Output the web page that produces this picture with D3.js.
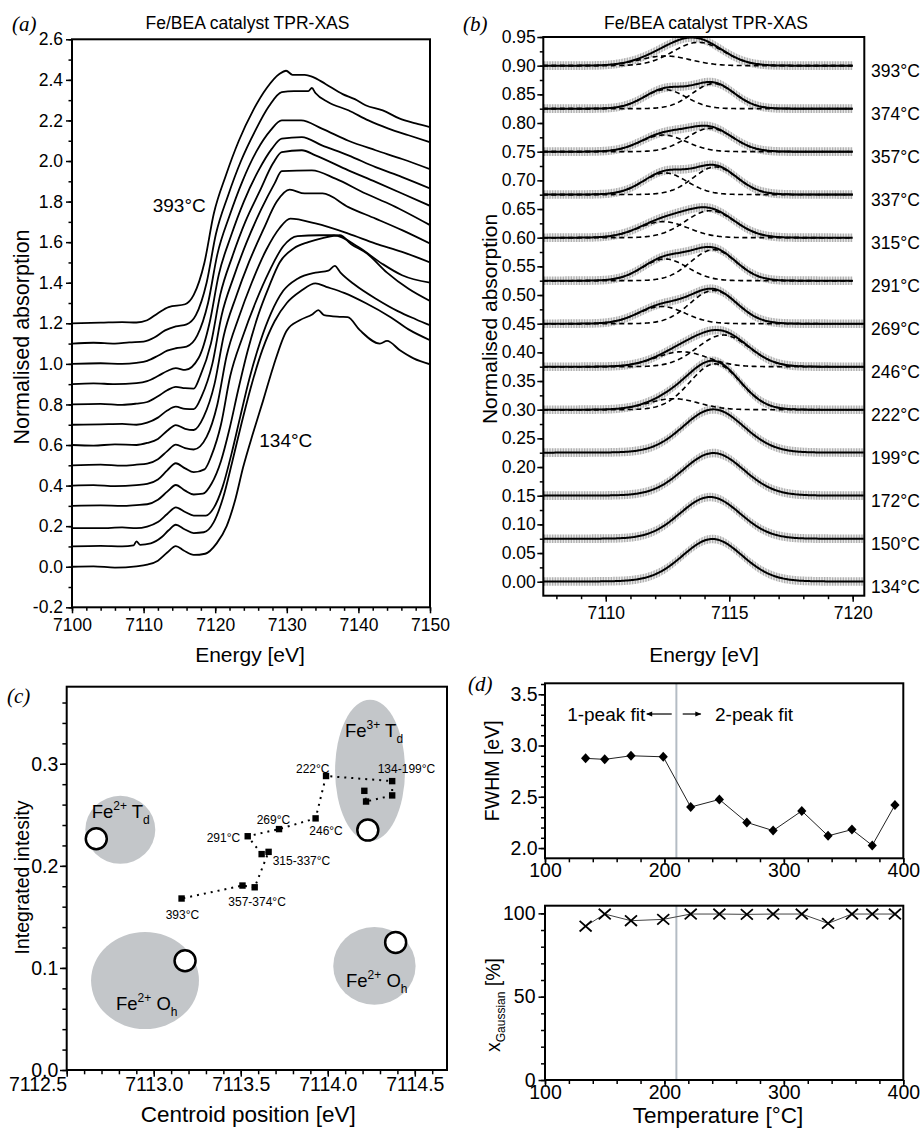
<!DOCTYPE html>
<html>
<head>
<meta charset="utf-8">
<script src="https://cdn.jsdelivr.net/npm/d3@7"></script>
<style>
  body { margin: 0; background: #fff; }
  svg text, svg tspan { font-family: "Liberation Sans", Arial, Helvetica, sans-serif; fill: #000; }
  .tag { font-family: "Liberation Serif", "Times New Roman", serif; font-style: italic; font-size: 21px; }
</style>
</head>
<body>
<div id="chart"></div>
<script>
// ---------- data ----------
const temps = [134, 150, 172, 199, 222, 246, 269, 291, 315, 337, 357, 374, 393];

// (a) normalised XANES, [energy, absorption] before stacking
const xanesOffsets = [0, 0.1, 0.19, 0.3, 0.4, 0.5, 0.6, 0.7, 0.8, 0.9, 1.0, 1.1, 1.2];
const xanes = [
  [[7100,0],[7103,0.002],[7106,-0.004],[7109,0.002],[7110.5,0.01],[7112,0.03],[7113.3,0.07],[7114.5,0.102],[7115.6,0.08],[7117,0.058],[7118.6,0.064],[7120.2,0.115],[7121.6,0.2],[7122.8,0.33],[7123.9,0.49],[7125.3,0.66],[7126.7,0.82],[7128.1,0.985],[7130,1.165],[7131.8,1.215],[7133.6,1.245],[7134.4,1.265],[7135.2,1.24],[7137.4,1.232],[7138.5,1.23],[7140.2,1.166],[7143,1.1],[7144,1.113],[7145.8,1.067],[7147.7,1.027],[7150,0.998]],
  [[7100,0],[7104,0.003],[7107,0],[7108.6,0.005],[7109,0.025],[7109.5,0.008],[7111,0.015],[7112.5,0.045],[7113.5,0.08],[7114.5,0.107],[7115.7,0.085],[7117,0.066],[7118.4,0.07],[7119.8,0.12],[7121.1,0.24],[7122.4,0.42],[7123.7,0.61],[7125.1,0.8],[7126.6,0.97],[7128.3,1.11],[7130,1.2],[7132,1.26],[7134,1.297],[7135.5,1.28],[7138,1.25],[7141,1.2],[7144.5,1.13],[7147,1.07],[7150,1.017]],
  [[7100,0],[7104,0],[7107,0.004],[7109,0],[7110.5,0.008],[7112,0.03],[7113.3,0.07],[7114.5,0.103],[7115.8,0.08],[7117,0.062],[7118.7,0.062],[7119.8,0.1],[7121,0.2],[7122.3,0.37],[7123.5,0.55],[7124.8,0.74],[7126.3,0.92],[7127.8,1.06],[7129.5,1.17],[7131.5,1.23],[7134,1.26],[7135.8,1.27],[7136.7,1.293],[7137.5,1.26],[7139.5,1.2],[7142.5,1.13],[7145.5,1.07],[7148,1.03],[7150,1.0]],
  [[7100,0],[7104,0.002],[7107,0],[7109,0.004],[7110.5,0.008],[7112,0.03],[7113.3,0.07],[7114.5,0.103],[7115.8,0.075],[7117,0.056],[7118.3,0.06],[7119.5,0.11],[7120.8,0.22],[7122,0.38],[7123.2,0.57],[7124.5,0.76],[7126,0.94],[7127.5,1.08],[7129,1.2],[7131,1.27],[7133,1.3],[7135,1.32],[7137.4,1.334],[7139,1.29],[7141.2,1.244],[7144,1.15],[7147,1.07],[7150,1.01]],
  [[7100,0],[7103,0.002],[7106,-0.003],[7109,0.002],[7110.5,0.008],[7112,0.03],[7113.3,0.075],[7114.5,0.11],[7115.8,0.085],[7117,0.066],[7118.5,0.08],[7119.5,0.15],[7120.8,0.3],[7122.1,0.54],[7123.8,0.73],[7125.6,0.9],[7127.6,1.06],[7129.5,1.18],[7131.5,1.23],[7134.5,1.234],[7136.6,1.234],[7140,1.176],[7143.3,1.094],[7146.1,1.037],[7150,1.0]],
  [[7100,0],[7104,0.003],[7107,-0.002],[7109,0.003],[7110.5,0.008],[7112,0.03],[7113.3,0.07],[7114.5,0.102],[7115.8,0.085],[7117,0.078],[7118.8,0.14],[7120.3,0.3],[7121.6,0.54],[7123.3,0.73],[7125.1,0.9],[7127.1,1.06],[7129,1.17],[7130.5,1.216],[7134,1.192],[7138.6,1.142],[7142.4,1.093],[7146.1,1.052],[7150,1.0]],
  [[7100,0],[7103,-0.003],[7106,0.003],[7109,0],[7110.5,0.01],[7112,0.03],[7113.3,0.07],[7114.5,0.0985],[7115.8,0.08],[7117,0.074],[7118.4,0.14],[7119.9,0.3],[7121.2,0.54],[7122.9,0.73],[7124.7,0.9],[7126.7,1.06],[7128.6,1.2],[7130.4,1.259],[7132.5,1.24],[7135,1.24],[7138.6,1.173],[7142.4,1.116],[7146.1,1.059],[7150,0.993]],
  [[7100,0],[7104,0.002],[7107,0.004],[7109,0],[7110.5,0.01],[7112,0.035],[7113.3,0.07],[7114.5,0.089],[7115.8,0.078],[7117,0.077],[7118.1,0.14],[7119.6,0.3],[7120.9,0.54],[7122.6,0.73],[7124.4,0.9],[7126.4,1.06],[7128.3,1.19],[7129.3,1.25],[7133.5,1.254],[7136.8,1.213],[7141,1.14],[7144.7,1.082],[7150,0.984]],
  [[7100,0],[7104,0.003],[7107,-0.002],[7109,0.004],[7110.5,0.012],[7112,0.04],[7113.3,0.07],[7114.5,0.087],[7115.8,0.08],[7117,0.078],[7117.9,0.14],[7119.4,0.3],[7120.7,0.54],[7122.4,0.73],[7124.2,0.9],[7126.2,1.05],[7128.1,1.19],[7129.3,1.244],[7132.1,1.253],[7134,1.228],[7138.6,1.154],[7142.4,1.097],[7146.1,1.04],[7150,0.979]],
  [[7100,0],[7103,0.004],[7106,0],[7109,0.005],[7110.5,0.015],[7112,0.04],[7113.3,0.065],[7114.5,0.079],[7115.8,0.07],[7117.7,0.13],[7119.2,0.3],[7120.5,0.54],[7122.2,0.73],[7124,0.9],[7126,1.05],[7127.9,1.16],[7129.3,1.21],[7132.1,1.218],[7134.9,1.177],[7138.6,1.128],[7142.4,1.07],[7146.1,1.021],[7150,0.965]],
  [[7100,0],[7104,0.003],[7107,0],[7109,0.005],[7110.5,0.015],[7112,0.04],[7113.3,0.065],[7114.5,0.077],[7116,0.085],[7117.5,0.14],[7119,0.3],[7120.3,0.54],[7122,0.73],[7123.8,0.9],[7125.8,1.05],[7127.7,1.15],[7129.3,1.2],[7132,1.2],[7134.9,1.16],[7138.6,1.1],[7142.4,1.053],[7146.1,1.01],[7150,0.96]],
  [[7100,0],[7103,0.004],[7106,0],[7108,0.006],[7110,0.01],[7111.5,0.03],[7113,0.065],[7114.5,0.085],[7116,0.095],[7117.3,0.14],[7118.8,0.3],[7120.1,0.54],[7121.8,0.73],[7123.6,0.9],[7125.6,1.05],[7127.5,1.17],[7129.3,1.24],[7131,1.245],[7133,1.245],[7133.5,1.26],[7134,1.235],[7135.8,1.19],[7138.6,1.15],[7141.4,1.1],[7144.2,1.06],[7147,1.027],[7150,0.993]],
  [[7100,0],[7104,0.003],[7107,0.006],[7109,0.004],[7110.5,0.015],[7112,0.05],[7113.5,0.08],[7115.8,0.094],[7117,0.14],[7118.5,0.3],[7119.8,0.54],[7121.5,0.73],[7123.3,0.9],[7125.3,1.05],[7127.2,1.16],[7129,1.23],[7129.9,1.245],[7130.8,1.225],[7132.5,1.225],[7133.6,1.215],[7135.4,1.18],[7137.8,1.13],[7139.5,1.105],[7141,1.075],[7143.4,1.05],[7145.7,1.01],[7148,0.985],[7150,0.967]]
];

// (b) pre-edge peak fits
const fitOffsets = [0, 0.075, 0.15, 0.225, 0.3, 0.375, 0.45, 0.525, 0.6, 0.675, 0.75, 0.825, 0.9];
const peak1Centre = [7114.32, 7114.22, 7114.36, 7114.36, 7112.74, 7113.08, 7112.26, 7112.4, 7112.33, 7112.4, 7112.33, 7112.4, 7112.4];
const peak1Height = [0.0745, 0.0727, 0.0744, 0.0756, 0.0192, 0.026, 0.03, 0.0378, 0.028, 0.0378, 0.029, 0.0331, 0.0169];
const peak2Centre = [null, null, null, null, 7114.43, 7114.76, 7114.36, 7114.36, 7114.22, 7114.43, 7114.22, 7114.36, 7113.75];
const peak2Height = [null, null, null, null, 0.08, 0.0552, 0.058, 0.054, 0.0471, 0.0483, 0.0407, 0.0436, 0.0407];
const scanEnd = [7120.47, 7120.47, 7120.47, 7120.47, 7120.47, 7120.47, 7120.47, 7120, 7120, 7120, 7120, 7120, 7120];

// (c) centroid vs integrated intensity
const centroid = [7114.21, 7114.22, 7114.37, 7114.37, 7113.99, 7113.93, 7113.72, 7113.54, 7113.62, 7113.66, 7113.58, 7113.51, 7113.16];
const intensity = [0.2735, 0.263, 0.269, 0.283, 0.288, 0.2465, 0.236, 0.229, 0.2115, 0.2137, 0.179, 0.1807, 0.168];
const refCentroid = [7114.23, 7112.67, 7113.18, 7114.39];
const refIntensity = [0.235, 0.2265, 0.107, 0.125];
const regionCx = [7114.243, 7112.808, 7112.95, 7114.268];
const regionCy = [0.2935, 0.2353, 0.0876, 0.102];
const regionRx = [0.201, 0.201, 0.31, 0.2366];
const regionRy = [0.0693, 0.0333, 0.0475, 0.038];

// (d) fit parameters
const fwhm = [2.875, 2.865, 2.9, 2.89, 2.4, 2.474, 2.25, 2.17, 2.362, 2.119, 2.18, 2.026, 2.42];
const xGaussian = [92.3, 99.6, 95.6, 96.4, 99.6, 99.6, 99.4, 99.6, 99.6, 94.0, 99.6, 99.6, 99.6];
const switchTemp = 210;

// ---------- helpers ----------
const FONT = '"Liberation Sans", Arial, Helvetica, sans-serif';
const svg = d3.select("#chart").append("svg")
  .attr("width", 921).attr("height", 1129);

const defs = svg.append("defs");
const hatch = defs.append("pattern").attr("id", "hatch")
  .attr("patternUnits", "userSpaceOnUse").attr("width", 1.6).attr("height", 4);
hatch.append("rect").attr("width", 0.9).attr("height", 4).attr("fill", "#a6a6a6");
defs.append("marker").attr("id", "arrow").attr("viewBox", "0 0 10 10")
  .attr("refX", 9).attr("refY", 5).attr("markerWidth", 7).attr("markerHeight", 5)
  .attr("orient", "auto")
  .append("path").attr("d", "M0,1L10,5L0,9Z").attr("fill", "#000");

function drawAxes(x, y, o) {
  const g = svg.append("g");
  const [xl, xr] = x.range(), [yBot, yTop] = y.range();
  g.append("g").attr("transform", `translate(0,${yBot})`)
    .call(d3.axisBottom(x).tickValues(o.xMinor).tickSize(o.minor).tickSizeOuter(0).tickFormat(""));
  const bottom = g.append("g").attr("transform", `translate(0,${yBot})`)
    .call(d3.axisBottom(x).tickValues(o.xMajor).tickSize(o.major).tickSizeOuter(0)
      .tickPadding(o.xPad).tickFormat(o.xFmt));
  g.append("g").attr("transform", `translate(${xl},0)`)
    .call(d3.axisLeft(y).tickValues(o.yMinor).tickSize(o.minor).tickSizeOuter(0).tickFormat(""));
  const left = g.append("g").attr("transform", `translate(${xl},0)`)
    .call(d3.axisLeft(y).tickValues(o.yMajor).tickSize(o.major).tickSizeOuter(0)
      .tickPadding(o.yPad).tickFormat(o.yFmt));
  g.selectAll(".domain").remove();
  g.selectAll("line").attr("stroke", "#000").attr("stroke-width", 1.5);
  [bottom, left].forEach(a => a.attr("font-family", FONT).attr("font-size", o.fs));
  g.selectAll("text").attr("fill", "#000");
  return {bottom, left};
}

function frame(x, y) {
  const [xl, xr] = x.range(), [yBot, yTop] = y.range();
  svg.append("rect").attr("x", xl).attr("y", yTop)
    .attr("width", xr - xl).attr("height", yBot - yTop)
    .attr("fill", "none").attr("stroke", "#000").attr("stroke-width", 2);
}

function clip(id, x, y) {
  const [xl, xr] = x.range(), [yBot, yTop] = y.range();
  defs.append("clipPath").attr("id", id).append("rect")
    .attr("x", xl).attr("y", yTop).attr("width", xr - xl).attr("height", yBot - yTop);
}

function label(x, y, text, size, anchor) {
  return svg.append("text").attr("x", x).attr("y", y)
    .attr("font-size", size).attr("text-anchor", anchor || "start").text(text);
}

function yTitle(x, y, text, size) {
  return svg.append("text").attr("transform", `translate(${x},${y}) rotate(-90)`)
    .attr("font-size", size).attr("text-anchor", "middle").text(text);
}

const f1 = d => d.toFixed(1), f2 = d => d.toFixed(2);

// ---------- (a) XANES ----------
const xa = d3.scaleLinear().domain([7100, 7150]).range([72, 430]);
const ya = d3.scaleLinear().domain([-0.2, 2.6]).range([607.3, 39.3]);
clip("clipA", xa, ya);

drawAxes(xa, ya, {
  xMajor: d3.range(7100, 7151, 10), xMinor: d3.range(7100, 7151, 2),
  yMajor: d3.range(-0.2, 2.61, 0.2), yMinor: d3.range(-0.2, 2.61, 0.1),
  major: 6, minor: 3.5, xPad: 5, yPad: 3, fs: 17.5,
  xFmt: d3.format("d"), yFmt: f1
});

const lineA = d3.line().x(d => xa(d[0])).y(d => ya(d[1])).curve(d3.curveMonotoneX);
svg.append("g").attr("clip-path", "url(#clipA)")
  .selectAll("path").data(xanes).join("path")
    .attr("fill", "none").attr("stroke", "#000").attr("stroke-width", 1.8)
    .attr("stroke-linejoin", "round")
    .attr("d", (d, i) => lineA(d.map(p => [p[0], p[1] + xanesOffsets[i]])));

frame(xa, ya);
label(152.7, 211.5, temps[12] + "°C", 19);
label(259.3, 446.5, temps[0] + "°C", 19);
label(247.5, 29, "Fe/BEA catalyst TPR-XAS", 17.5, "middle");
label(250, 661.5, "Energy [eV]", 21, "middle");
yTitle(29, 337, "Normalised absorption", 21.5);
svg.append("text").attr("class", "tag").attr("x", 12).attr("y", 31).text("(a)");

// ---------- (b) pre-edge fits ----------
const xb = d3.scaleLinear().domain([7107.47, 7120.47]).range([543.3, 864.3]);
const yb = d3.scaleLinear().domain([-0.0244, 0.95]).range([595.7, 37]);
clip("clipB", xb, yb);

drawAxes(xb, yb, {
  xMajor: [7110, 7115, 7120], xMinor: d3.range(7108, 7121, 1),
  yMajor: d3.range(0, 0.951, 0.05), yMinor: d3.range(0, 0.951, 0.025),
  major: 6, minor: 3.5, xPad: 5, yPad: 1.5, fs: 17.5,
  xFmt: d3.format("d"), yFmt: f2
});

// pseudo-Voigt component with Gaussian fraction g
function profile(e, c, h, w, g) {
  const u = (e - c) / w;
  return h * (g * Math.exp(-4 * Math.LN2 * u * u) + (1 - g) / (1 + 4 * u * u));
}

const gB = svg.append("g").attr("clip-path", "url(#clipB)");
temps.forEach((t, i) => {
  const g = xGaussian[i] / 100, w = fwhm[i];
  const comps = [[peak1Centre[i], peak1Height[i]]];
  if (peak2Centre[i] !== null) comps.push([peak2Centre[i], peak2Height[i]]);
  const grid = d3.range(7107.45, scanEnd[i] + 0.001, 0.05);
  const total = e => comps.reduce((s, c) => s + profile(e, c[0], c[1], w, g), 0);

  gB.append("path")
    .attr("fill", "url(#hatch)")
    .attr("d", d3.area().x(e => xb(e))
      .y0(e => yb(fitOffsets[i] + total(e) - 0.0075))
      .y1(e => yb(fitOffsets[i] + total(e) + 0.0075))(grid));

  if (comps.length > 1) {
    comps.forEach(c => {
      gB.append("path").attr("fill", "none").attr("stroke", "#000")
        .attr("stroke-width", 1.6).attr("stroke-dasharray", "5,3.5")
        .attr("d", d3.line().x(e => xb(e))
          .y(e => yb(fitOffsets[i] + profile(e, c[0], c[1], w, g)))(grid));
    });
  }
  gB.append("path").attr("fill", "none").attr("stroke", "#000").attr("stroke-width", 2)
    .attr("d", d3.line().x(e => xb(e)).y(e => yb(fitOffsets[i] + total(e)))(grid));

  svg.append("text").attr("x", 871).attr("y", yb(fitOffsets[i]) + 5)
    .attr("dy", "0.35em").attr("font-size", 17.5).text(t + "°C");
});

frame(xb, yb);
label(706, 28.5, "Fe/BEA catalyst TPR-XAS", 17.5, "middle");
label(704, 661.5, "Energy [eV]", 21, "middle");
yTitle(497, 319, "Normalised absorption", 21);
svg.append("text").attr("class", "tag").attr("x", 463).attr("y", 31).text("(b)");

// ---------- (c) centroid map ----------
const xc = d3.scaleLinear().domain([7112.5, 7114.685]).range([66.7, 447]);
const yc = d3.scaleLinear().domain([0, 0.3755]).range([1070, 686.7]);
clip("clipC", xc, yc);

const axC = drawAxes(xc, yc, {
  xMajor: d3.range(7112.5, 7114.51, 0.5), xMinor: d3.range(7112.5, 7114.69, 0.1),
  yMajor: [0, 0.1, 0.2, 0.3], yMinor: d3.range(0, 0.37, 0.02),
  major: 6.7, minor: 4.3, xPad: 0, yPad: 1.7, fs: 19.5,
  xFmt: f1, yFmt: f1
});
axC.bottom.selectAll(".tick text").filter(d => d === 7112.5).attr("text-anchor", "end");

const gC = svg.append("g").attr("clip-path", "url(#clipC)");
gC.selectAll("ellipse").data(regionCx).join("ellipse")
  .attr("cx", d => xc(d)).attr("cy", (d, i) => yc(regionCy[i]))
  .attr("rx", (d, i) => xc(d + regionRx[i]) - xc(d))
  .attr("ry", (d, i) => yc(regionCy[i] - regionRy[i]) - yc(regionCy[i]))
  .attr("fill", "#c3c6c9");

gC.append("path")
  .attr("fill", "none").attr("stroke", "#000").attr("stroke-width", 2)
  .attr("stroke-dasharray", "2,5")
  .attr("d", d3.line().x((d, i) => xc(centroid[i])).y((d, i) => yc(intensity[i]))(temps));

gC.selectAll("rect.pt").data(centroid).join("rect").attr("class", "pt")
  .attr("x", d => xc(d) - 3.2).attr("y", (d, i) => yc(intensity[i]) - 3.2)
  .attr("width", 6.4).attr("height", 6.4).attr("fill", "#000");

gC.selectAll("circle").data(refCentroid).join("circle")
  .attr("cx", d => xc(d)).attr("cy", (d, i) => yc(refIntensity[i]))
  .attr("r", 10.5).attr("fill", "#fff").attr("stroke", "#000").attr("stroke-width", 2.5);

function chem(x, y, sup, site, sub) {
  const t = svg.append("text").attr("x", x).attr("y", y).attr("font-size", 18.5).attr("fill", "#000");
  t.append("tspan").attr("fill", "#000").text("Fe");
  t.append("tspan").attr("fill", "#000").attr("font-size", 12).attr("dy", -8).text(sup);
  t.append("tspan").attr("fill", "#000").attr("dy", 8).text(" " + site);
  t.append("tspan").attr("fill", "#000").attr("font-size", 12).attr("dy", 6).text(sub);
}
chem(345, 736.7, "3+", "T", "d");
chem(91.7, 818.3, "2+", "T", "d");
chem(116, 1010, "2+", "O", "h");
chem(346, 986.7, "2+", "O", "h");

const cLabels = [
  ["222°C", 296, 773], ["134-199°C", 377.7, 773], ["269°C", 256.7, 824],
  ["246°C", 309.3, 835], ["291°C", 206.7, 841.5], ["315-337°C", 272.7, 865],
  ["357-374°C", 228.3, 905.5], ["393°C", 165.7, 919]
];
cLabels.forEach(l => label(l[1], l[2], l[0], 12));

frame(xc, yc);
label(248.3, 1121.5, "Centroid position [eV]", 22.5, "middle");
yTitle(29, 877.5, "Integrated intesity", 19.5);
svg.append("text").attr("class", "tag").attr("x", 7).attr("y", 703).text("(c)");

// ---------- (d) FWHM and Gaussian fraction ----------
const xd = d3.scaleLinear().domain([100, 400]).range([545, 903.3]);
const yd1 = d3.scaleLinear().domain([1.9, 3.607]).range([858.3, 683.3]);
const yd2 = d3.scaleLinear().domain([0, 104.6]).range([1080, 905.7]);

drawAxes(xd, yd1, {
  xMajor: [100, 200, 300, 400], xMinor: d3.range(100, 401, 20),
  yMajor: [2.0, 2.5, 3.0, 3.5], yMinor: d3.range(2.0, 3.61, 0.1),
  major: 6.5, minor: 4, xPad: -2, yPad: 0.8, fs: 19.5,
  xFmt: d3.format("d"), yFmt: f1
});
drawAxes(xd, yd2, {
  xMajor: [100, 200, 300, 400], xMinor: d3.range(100, 401, 20),
  yMajor: [0, 50, 100], yMinor: d3.range(0, 101, 10),
  major: 6.5, minor: 4, xPad: -1.5, yPad: 3, fs: 19.5,
  xFmt: d3.format("d"), yFmt: d3.format("d")
});

[yd1, yd2].forEach(y => {
  svg.append("line").attr("x1", xd(switchTemp)).attr("x2", xd(switchTemp))
    .attr("y1", y.range()[0]).attr("y2", y.range()[1])
    .attr("stroke", "#b4bcc4").attr("stroke-width", 2);
});

svg.append("path").attr("fill", "none").attr("stroke", "#222").attr("stroke-width", 1)
  .attr("d", d3.line().x((d, i) => xd(temps[i])).y((d, i) => yd1(fwhm[i]))(temps));
svg.selectAll("path.dia").data(temps).join("path").attr("class", "dia")
  .attr("transform", (d, i) => `translate(${xd(d)},${yd1(fwhm[i])})`)
  .attr("d", "M0,-5L4.6,0L0,5L-4.6,0Z").attr("fill", "#000");

svg.append("path").attr("fill", "none").attr("stroke", "#444").attr("stroke-width", 1)
  .attr("d", d3.line().x((d, i) => xd(temps[i])).y((d, i) => yd2(xGaussian[i]))(temps));
svg.selectAll("path.cross").data(temps).join("path").attr("class", "cross")
  .attr("transform", (d, i) => `translate(${xd(d)},${yd2(xGaussian[i])})`)
  .attr("d", "M-6,-5.3L6,5.3M-6,5.3L6,-5.3").attr("fill", "none")
  .attr("stroke", "#000").attr("stroke-width", 1.8);

// fit-regime annotation
svg.append("line").attr("x1", xd(206.1)).attr("x2", xd(185.2))
  .attr("y1", yd1(3.3075)).attr("y2", yd1(3.3075))
  .attr("stroke", "#000").attr("stroke-width", 1.2).attr("marker-end", "url(#arrow)");
svg.append("line").attr("x1", xd(215.3)).attr("x2", xd(230.4))
  .attr("y1", yd1(3.3075)).attr("y2", yd1(3.3075))
  .attr("stroke", "#000").attr("stroke-width", 1.2).attr("marker-end", "url(#arrow)");
label(xd(184), yd1(3.239), "1-peak fit", 19, "end");
label(715, yd1(3.239), "2-peak fit", 19);

frame(xd, yd1);
frame(xd, yd2);
yTitle(499, 770.8, "FWHM [eV]", 19.5);
const xg = svg.append("text").attr("transform", "translate(500,1005) rotate(-90)")
  .attr("font-size", 19.5).attr("text-anchor", "middle");
xg.append("tspan").text("x");
xg.append("tspan").attr("font-size", 12).attr("dy", 5).text("Gaussian");
xg.append("tspan").attr("dy", -5).text(" [%]");
label(718, 1123, "Temperature [°C]", 22.5, "middle");
svg.append("text").attr("class", "tag").attr("x", 468).attr("y", 691).text("(d)");
</script>
</body>
</html>
